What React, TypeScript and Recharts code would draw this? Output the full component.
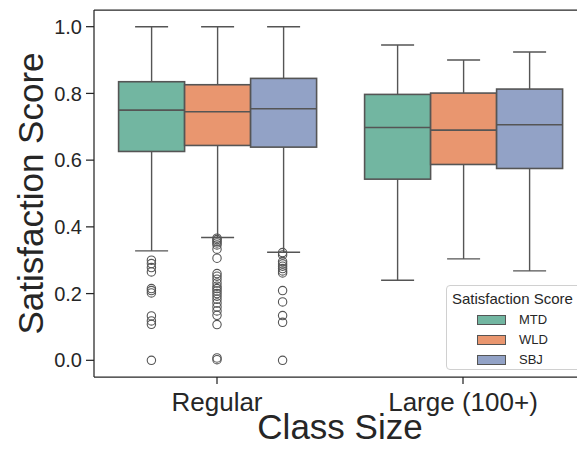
import { ComposedChart, Bar, Scatter, XAxis, YAxis, ReferenceLine, Label } from 'recharts'

const categories = ['Regular', 'Large (100+)']
const hues = ['MTD', 'WLD', 'SBJ']
const colors = ['#72b6a1', '#e9966f', '#92a2c6']

// box stats, one value per category
const mtdLow = [0.328, 0.240]
const mtdQ1 = [0.626, 0.543]
const mtdMed = [0.750, 0.698]
const mtdQ3 = [0.835, 0.797]
const mtdHigh = [1.0, 0.945]

const wldLow = [0.368, 0.304]
const wldQ1 = [0.644, 0.587]
const wldMed = [0.745, 0.690]
const wldQ3 = [0.826, 0.801]
const wldHigh = [1.0, 0.900]

const sbjLow = [0.324, 0.268]
const sbjQ1 = [0.639, 0.575]
const sbjMed = [0.754, 0.706]
const sbjQ3 = [0.845, 0.813]
const sbjHigh = [1.0, 0.924]

// outliers per category
const mtdOutliers = [
  [0.300, 0.290, 0.278, 0.265, 0.215, 0.209, 0.202, 0.133, 0.118, 0.108, 0.0],
  [],
]
const wldOutliers = [
  [0.366, 0.362, 0.357, 0.352, 0.346, 0.333, 0.306, 0.260, 0.252, 0.243, 0.232, 0.222,
    0.215, 0.208, 0.200, 0.192, 0.183, 0.172, 0.160, 0.148, 0.135, 0.107, 0.007, 0.002],
  [],
]
const sbjOutliers = [
  [0.323, 0.316, 0.296, 0.289, 0.282, 0.275, 0.268, 0.262, 0.209, 0.175, 0.134, 0.114, 0.0],
  [],
]

const yTicks = [0, 0.2, 0.4, 0.6, 0.8, 1.0]

const stats = [
  { low: mtdLow, q1: mtdQ1, med: mtdMed, q3: mtdQ3, high: mtdHigh, out: mtdOutliers },
  { low: wldLow, q1: wldQ1, med: wldMed, q3: wldQ3, high: wldHigh, out: wldOutliers },
  { low: sbjLow, q1: sbjQ1, med: sbjMed, q3: sbjQ3, high: sbjHigh, out: sbjOutliers },
]

const table = categories.map((cat, i) => {
  const row: any = { cat }
  hues.forEach((h, k) => {
    const s = stats[k]
    row[h] = { low: s.low[i], q1: s.q1[i], med: s.med[i], q3: s.q3[i], high: s.high[i] }
  })
  return row
})

const BOX_WIDTH = 0.8
const hueOffset = (k: number) => (k - 1) * (BOX_WIDTH / hues.length)

const points = hues.map((h, k) =>
  categories.flatMap((_, i) => stats[k].out[i].map((v) => ({ x: i + hueOffset(k), y: v })))
)

const EDGE = '#555555'
const INK = '#262626'

const range = (h: string, a: string, b: string) => (r: any) =>
  r && r[h] ? [r[h][a], r[h][b]] : undefined

const boxShape = (hue: string, fill: string) => (p: any) => {
  const s = p.payload && p.payload[hue]
  if (!s) return null
  const top = Math.min(p.y, p.y + p.height)
  const h = Math.abs(p.height)
  const medY = top + (h * (s.q3 - s.med)) / (s.q3 - s.q1)
  return (
    <g>
      <rect x={p.x} y={top} width={p.width} height={h} fill={fill} stroke={EDGE} strokeWidth={1.6} />
      <line x1={p.x} x2={p.x + p.width} y1={medY} y2={medY} stroke={EDGE} strokeWidth={1.6} />
    </g>
  )
}

const whiskerShape = (p: any) => {
  const top = Math.min(p.y, p.y + p.height)
  const bottom = Math.max(p.y, p.y + p.height)
  const cx = p.x + p.width / 2
  const cap = p.width / 4
  return (
    <g stroke={EDGE} strokeWidth={1.4}>
      <line x1={cx} x2={cx} y1={top} y2={bottom} />
      <line x1={cx - cap} x2={cx + cap} y1={top} y2={top} />
      <line x1={cx - cap} x2={cx + cap} y1={bottom} y2={bottom} />
    </g>
  )
}

const outlierShape = (p: any) => (
  <circle cx={p.cx} cy={p.cy} r={4.2} fill="none" stroke={EDGE} strokeWidth={1.1} />
)

export default function App() {
  return (
    <div style={{ position: 'absolute', left: 0, top: 0, width: 577, height: 450, overflow: 'hidden', background: '#fff', fontFamily: '"Liberation Sans", Arial, sans-serif' }}>
      <ComposedChart
        width={596}
        height={450}
        data={table}
        margin={{ top: 10, right: 10, left: 0, bottom: 0 }}
        barCategoryGap="10%"
        barGap={0}
      >
        <XAxis
          dataKey="cat"
          type="category"
          height={73}
          tick={{ fontSize: 26, fill: INK }}
          tickSize={7}
          tickMargin={9}
          stroke={INK}
          strokeWidth={1.25}
        >
          <Label
            content={(lp: any) => {
              const vb = lp.viewBox
              return (
                <text x={vb.x + vb.width / 2} y={vb.y + 62} textAnchor="middle" fontSize={35} fill={INK}>
                  Class Size
                </text>
              )
            }}
          />
        </XAxis>
        <XAxis xAxisId="w" dataKey="cat" type="category" hide />
        <XAxis xAxisId="pts" dataKey="x" type="number" domain={[-0.5, 1.5]} hide />
        <YAxis
          type="number"
          domain={[-0.05, 1.05]}
          ticks={yTicks}
          allowDataOverflow
          width={94}
          tick={{ fontSize: 20, fill: INK }}
          tickFormatter={(v: number) => v.toFixed(1)}
          tickSize={8}
          tickMargin={4}
          stroke={INK}
          strokeWidth={1.25}
        >
          <Label
            content={(lp: any) => {
              const vb = lp.viewBox
              const cx = vb.x + 30
              const cy = vb.y + vb.height / 2
              return (
                <text x={cx} y={cy} textAnchor="middle" dominantBaseline="central" fontSize={35} fill={INK} transform={`rotate(-90, ${cx}, ${cy})`}>
                  Satisfaction Score
                </text>
              )
            }}
          />
        </YAxis>
        <ReferenceLine y={1.05} stroke={INK} strokeWidth={1.25} />
        {hues.map((h) => (
          <Bar
            key={`w-${h}`}
            xAxisId="w"
            dataKey={range(h, 'low', 'high')}
            shape={whiskerShape}
            isAnimationActive={false}
          />
        ))}
        {hues.map((h, k) => (
          <Bar
            key={`b-${h}`}
            dataKey={range(h, 'q1', 'q3')}
            fill={colors[k]}
            shape={boxShape(h, colors[k])}
            isAnimationActive={false}
          />
        ))}
        {hues.map((h, k) => (
          <Scatter
            key={`o-${h}`}
            xAxisId="pts"
            data={points[k]}
            dataKey="y"
            shape={outlierShape}
            isAnimationActive={false}
          />
        ))}
      </ComposedChart>
      <div
        style={{
          position: 'absolute', left: 446, top: 285, width: 136, height: 85,
          border: '1px solid #d0d0d0', borderRadius: 4, background: 'rgba(255,255,255,0.85)',
          boxSizing: 'border-box', color: INK,
        }}
      >
        <div style={{ position: 'absolute', left: 5, top: 4, fontSize: 15, whiteSpace: 'nowrap' }}>Satisfaction Score</div>
        {hues.map((h, k) => (
          <div key={h} style={{ position: 'absolute', left: 30, top: 26 + k * 20, display: 'flex', alignItems: 'center', fontSize: 13 }}>
            <span style={{ display: 'inline-block', width: 27, height: 8, background: colors[k], border: `1px solid ${EDGE}`, marginRight: 13 }} />
            {h}
          </div>
        ))}
      </div>
    </div>
  )
}
